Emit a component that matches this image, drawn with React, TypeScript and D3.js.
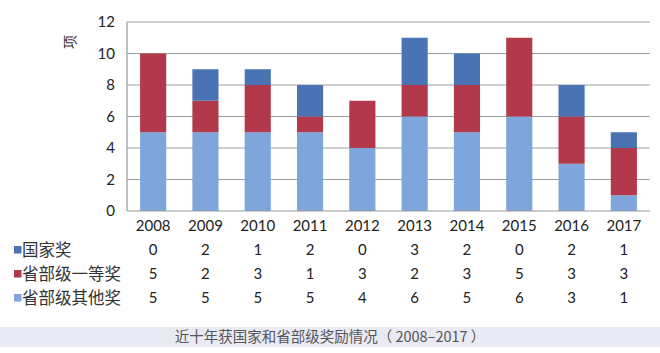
import React from 'react'
import * as d3 from 'd3'

const years = ['2008', '2009', '2010', '2011', '2012', '2013', '2014', '2015', '2016', '2017']
const seriesNames = ['国家奖', '省部级一等奖', '省部级其他奖']
const national = [0, 2, 1, 2, 0, 3, 2, 0, 2, 1]
const provFirst = [5, 2, 3, 1, 3, 2, 3, 5, 3, 3]
const provOther = [5, 5, 5, 5, 4, 6, 5, 6, 3, 1]
const yTicks = [0, 2, 4, 6, 8, 10, 12]

const COLORS = ['#4A73B3', '#B2394B', '#7EA6DC']
const W = 660
const H = 353
const margin = { top: 22, right: 10, bottom: 142, left: 127 }
const NUM_FONT = 'Lato, "Open Sans", sans-serif'
const CJK_FONT = '"Noto Sans CJK SC", sans-serif'

export default function App() {
  const innerW = W - margin.left - margin.right
  const innerH = H - margin.top - margin.bottom

  const x = d3.scaleBand<string>().domain(years).range([0, innerW]).paddingInner(0.5).paddingOuter(0.25)
  const y = d3.scaleLinear().domain([0, 12]).range([innerH, 0])

  // stack from bottom: other, first-class, national
  const rows = years.map((yr, i) => ({
    year: yr,
    other: provOther[i],
    first: provFirst[i],
    national: national[i],
  }))
  const stacked = d3.stack<any>().keys(['other', 'first', 'national'])(rows)
  const stackColors = [COLORS[2], COLORS[1], COLORS[0]]

  const tableVals = [national, provFirst, provOther]
  const rowY = [250, 274, 298]
  const cx = (yr: string) => margin.left + (x(yr) ?? 0) + x.bandwidth() / 2

  return (
    <svg width={W} height={H} style={{ position: 'absolute', left: 0, top: 0, background: '#fff' }}>
      <g transform={`translate(${margin.left},${margin.top})`}>
        {/* grid */}
        {yTicks.filter(t => t > 0).map(t => (
          <line key={t} x1={0} x2={innerW} y1={y(t)} y2={y(t)} stroke="#A0A0A0" strokeWidth={1} />
        ))}
        {/* bars */}
        {stacked.map((layer, li) => (
          <g key={li} fill={stackColors[li]}>
            {layer.map((d: any) => (
              <rect
                key={d.data.year}
                x={x(d.data.year)}
                y={y(d[1])}
                width={x.bandwidth()}
                height={y(d[0]) - y(d[1])}
              />
            ))}
          </g>
        ))}
        {/* axes lines */}
        <line x1={0} x2={0} y1={y(12)} y2={y(0)} stroke="#999" strokeWidth={1.2} />
        <line x1={0} x2={innerW} y1={y(0)} y2={y(0)} stroke="#999" strokeWidth={1.2} />
        {/* y tick labels */}
        {yTicks.map(t => (
          <text key={t} x={-12} y={y(t)} dy="0.35em" textAnchor="end" fontSize={15} fill="#222" fontFamily={NUM_FONT}>
            {t}
          </text>
        ))}
        {/* x labels */}
        {years.map(yr => (
          <text key={yr} x={(x(yr) ?? 0) + x.bandwidth() / 2} y={innerH + 15} dy="0.35em" textAnchor="middle" fontSize={15} fill="#222" fontFamily={NUM_FONT}>
            {yr}
          </text>
        ))}
      </g>
      {/* y unit */}
      <text transform="translate(70,42) rotate(-90)" textAnchor="middle" dy="0.35em" fontSize={14} fill="#333" fontFamily={CJK_FONT}>
        项
      </text>
      {/* data table */}
      {seriesNames.map((name, ri) => (
        <g key={name}>
          <rect x={14} y={rowY[ri] - 4} width={7.5} height={7.5} fill={COLORS[ri]} />
          <text x={22} y={rowY[ri]} dy="0.35em" fontSize={16.5} fill="#333" fontFamily={CJK_FONT}>
            {name}
          </text>
          {years.map((yr, i) => (
            <text key={yr} x={cx(yr)} y={rowY[ri]} dy="0.35em" textAnchor="middle" fontSize={15} fill="#222" fontFamily={NUM_FONT}>
              {tableVals[ri][i]}
            </text>
          ))}
        </g>
      ))}
      {/* caption band */}
      <rect x={0} y={327} width={W} height={20} fill="#E9EAF4" />
      <text x={W / 2} y={337} dy="0.35em" textAnchor="middle" fontSize={14.5} fill="#555" fontFamily={CJK_FONT}>
        近十年获国家和省部级奖励情况（ 2008–2017 ）
      </text>
    </svg>
  )
}
